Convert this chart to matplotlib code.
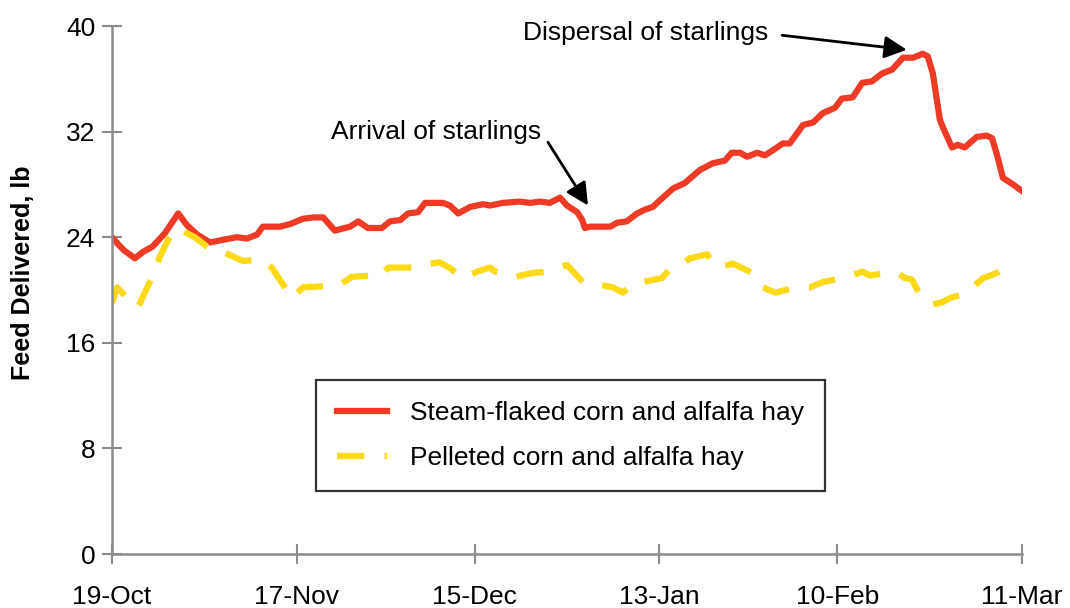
import matplotlib
matplotlib.use('Agg')
import matplotlib.pyplot as plt

plt.rcParams['font.family'] = ['Liberation Sans', 'DejaVu Sans']

# x positions are days after 19-Oct
tick_days = [0, 29, 57, 86, 114, 143]
tick_labels = ['19-Oct', '17-Nov', '15-Dec', '13-Jan', '10-Feb', '11-Mar']

steam_days = [0, 0.9, 1.9, 3.6, 4.9, 6.4, 8.3, 10.4, 11.8, 13.4, 15.4, 17.4, 19.6, 21.2,
              22.8, 23.7, 26.4, 28.0, 30.0, 31.6, 33.2, 35.0, 37.4, 38.7, 40.2, 42.4,
              43.7, 45.3, 46.5, 48.1, 49.2, 52.0, 53.1, 54.4, 56.3, 58.3, 59.4, 61.4,
              64.1, 65.7, 67.3, 68.8, 70.4, 71.5, 73.1, 73.9, 74.3, 75.1, 78.3, 79.4,
              80.9, 82.5, 83.8, 85.0, 86.1, 88.2, 90.0, 92.4, 94.4, 96.3, 97.4, 98.7,
              99.8, 101.4, 102.6, 103.9, 105.4, 106.5, 108.6, 110.2, 111.7, 113.6,
              114.7, 116.4, 117.9, 119.4, 121.0, 122.6, 124.3, 125.9, 127.4, 128.2,
              129.0, 130.1, 130.6, 132.0, 132.9, 134.0, 135.9, 137.5, 138.3, 139.1,
              140.0, 141.6, 143.0]
steam_feed = [24.0, 23.5, 23.0, 22.4, 22.9, 23.3, 24.3, 25.8, 24.9, 24.2, 23.6, 23.8, 24.0, 23.9,
              24.2, 24.8, 24.8, 25.0, 25.4, 25.5, 25.5, 24.5, 24.8, 25.2, 24.7, 24.7,
              25.2, 25.3, 25.8, 25.9, 26.6, 26.6, 26.4, 25.8, 26.3, 26.5, 26.4, 26.6,
              26.7, 26.6, 26.7, 26.6, 27.0, 26.4, 25.9, 25.3, 24.7, 24.8, 24.8, 25.1,
              25.2, 25.8, 26.1, 26.3, 26.8, 27.7, 28.1, 29.1, 29.6, 29.8, 30.4, 30.4,
              30.1, 30.4, 30.2, 30.6, 31.1, 31.1, 32.5, 32.7, 33.4, 33.8,
              34.5, 34.6, 35.7, 35.8, 36.4, 36.7, 37.6, 37.6, 37.9, 37.7,
              36.4, 32.9, 32.3, 30.8, 31.0, 30.8, 31.6, 31.7, 31.5, 30.2,
              28.5, 28.0, 27.5]

pellet_days = [0, 0.8, 2.4, 4.1, 6.3, 7.5, 8.8, 10.2, 13.0, 14.9, 16.2, 17.3, 20.6, 23.6,
               25.1, 26.9, 28.3, 30.0, 33.8, 35.8, 37.7, 40.9, 42.1, 43.4, 45.3, 48.1,
               50.0, 51.5, 53.0, 55.2, 57.4, 59.4, 60.2, 63.3, 66.2, 68.4, 71.5, 74.0,
               75.6, 78.7, 80.3, 81.9, 83.4, 86.4, 87.7, 89.7, 90.8, 93.5, 95.2, 97.6,
               100.6, 102.3, 104.2, 107.6, 109.7, 111.7, 115.7, 117.9, 119.1, 120.4,
               123.5, 124.6, 125.7, 127.0, 129.0, 130.6, 131.7, 134.0, 136.9, 139.1, 141.4]
pellet_feed = [19.0, 20.2, 19.4, 18.7, 21.0, 22.5, 23.8, 24.7, 24.0, 23.3, 22.9, 22.9, 22.2, 22.3,
               21.7, 20.4, 19.4, 20.2, 20.3, 20.4, 21.0, 21.1, 21.0, 21.7, 21.7, 21.7,
               22.0, 22.1, 21.7, 20.9, 21.4, 21.7, 21.4, 21.0, 21.3, 21.4, 21.9, 20.6,
               20.5, 20.2, 19.8, 20.5, 20.6, 20.9, 21.6, 22.0, 22.4, 22.7, 21.7, 22.0,
               21.3, 20.2, 19.8, 20.2, 20.2, 20.6, 21.0, 21.4, 21.1, 21.2,
               21.3, 20.9, 20.8, 19.6, 18.9, 19.1, 19.4, 19.7, 20.9, 21.3, 22.0]

grey = '#8c8c8c'

fig = plt.figure(figsize=(10.7, 6.08), dpi=100)
ax = fig.add_axes([0.1047, 0.0888, 0.8504, 0.8684])

ax.plot(steam_days, steam_feed, color='#ef3b26', lw=4.5, solid_joinstyle='round',
        label='Steam-flaked corn and alfalfa hay')
ax.plot(pellet_days, pellet_feed, color='#fcda18', lw=4.5, dashes=(4.4, 3.2),
        label='Pelleted corn and alfalfa hay')

ax.set_xlim(0, 143)
ax.set_ylim(0, 40)
ax.set_xticks(tick_days)
ax.set_xticklabels(tick_labels)
ax.set_yticks([0, 8, 16, 24, 32, 40])

for side in ['top', 'right']:
    ax.spines[side].set_visible(False)
for side in ['left', 'bottom']:
    ax.spines[side].set_color(grey)
    ax.spines[side].set_linewidth(1.8)

ax.tick_params(axis='both', direction='inout', length=14, width=1.5, color=grey,
               labelsize=19, labelcolor='black')
ax.tick_params(axis='x', pad=15)
ax.tick_params(axis='y', pad=5)

ax.set_ylabel('Feed Delivered, lb', fontsize=18, fontweight='bold', va='center')
ax.yaxis.set_label_coords(-0.098, 0.533)

# annotations
ax.text(50.9, 32.0, 'Arrival of starlings', fontsize=19, ha='center', va='center')
ax.annotate('', xy=(74.8, 26.4), xytext=(68.5, 31.2),
            arrowprops=dict(arrowstyle='-|>', color='black', lw=2, mutation_scale=34,
                            shrinkA=0, shrinkB=0))
ax.text(83.9, 39.5, 'Dispersal of starlings', fontsize=19, ha='center', va='center')
ax.annotate('', xy=(124.9, 38.2), xytext=(105.3, 39.3),
            arrowprops=dict(arrowstyle='-|>', color='black', lw=2, mutation_scale=34,
                            shrinkA=0, shrinkB=0))

leg = ax.legend(loc='upper left', bbox_to_anchor=(316 / 1070, 1 - 380 / 608),
                bbox_transform=fig.transFigure, fontsize=19, frameon=True,
                fancybox=False, borderaxespad=0, handlelength=1.9, handletextpad=0.85,
                borderpad=0.8, labelspacing=0.8)
leg.get_frame().set_edgecolor('black')
leg.get_frame().set_linewidth(1.6)

fig.savefig('out.png', dpi=100)
